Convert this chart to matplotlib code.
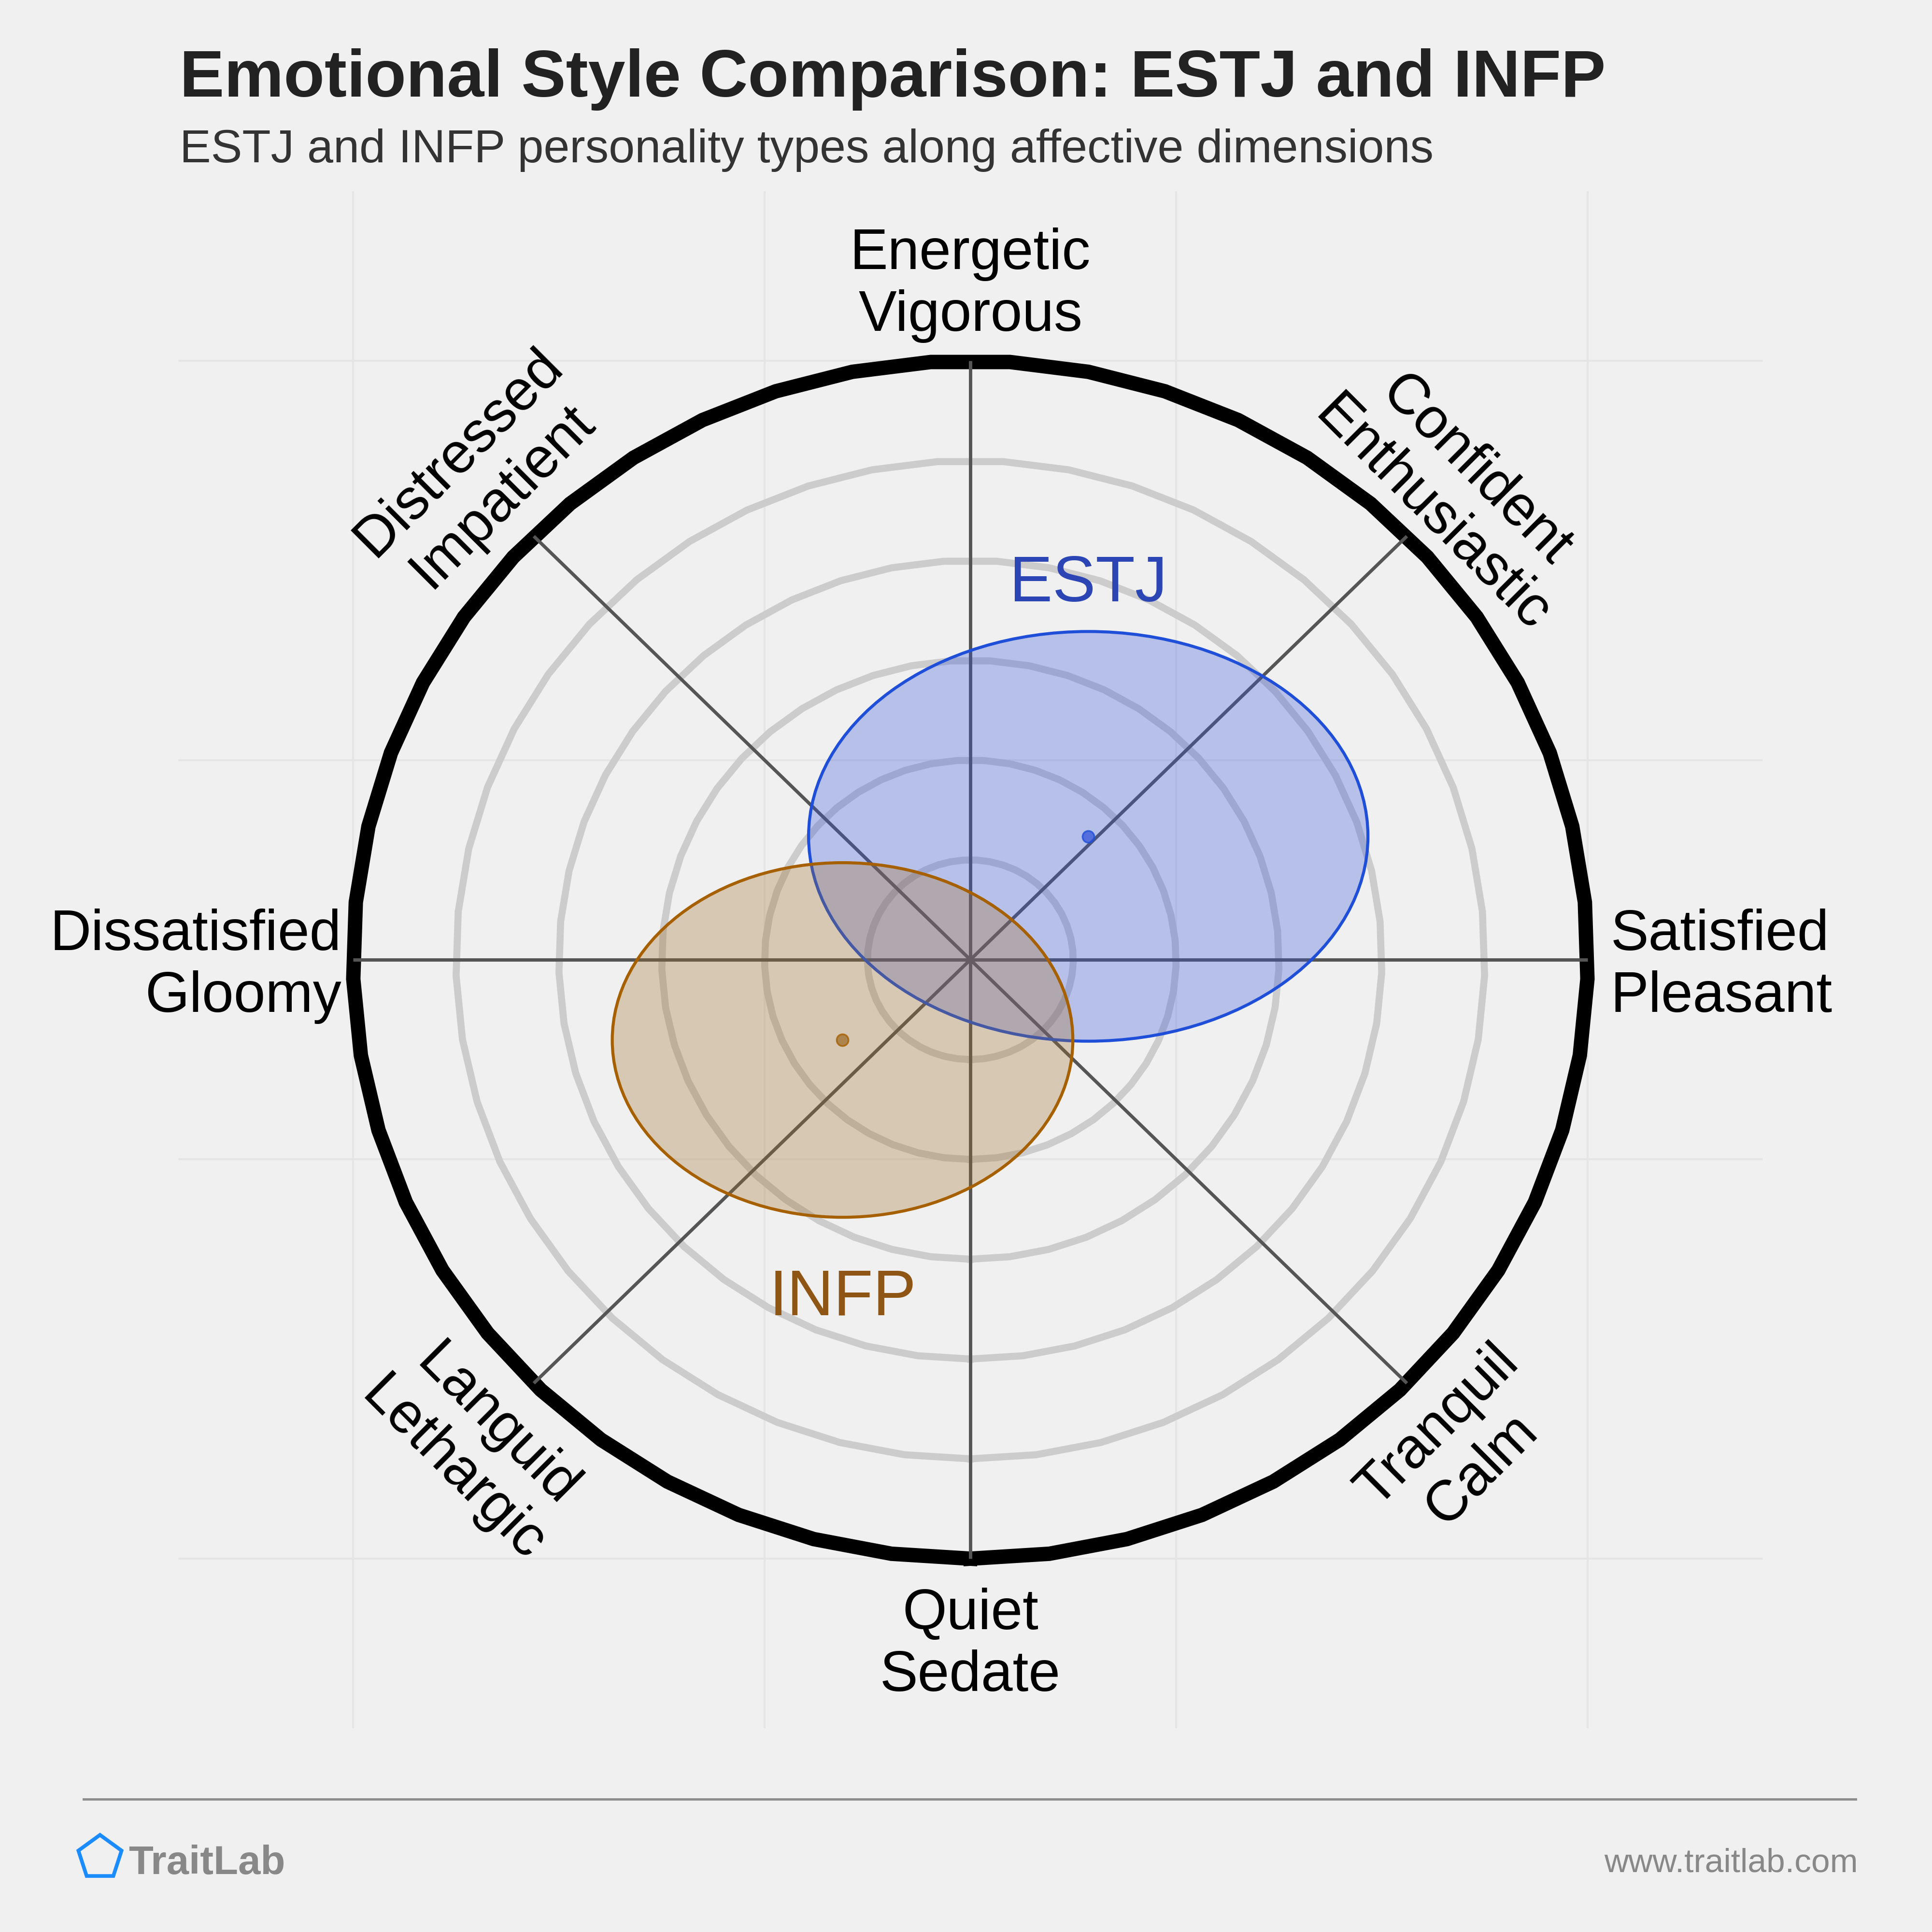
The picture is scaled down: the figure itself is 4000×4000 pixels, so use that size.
import numpy as np
import matplotlib
matplotlib.use('Agg')
import matplotlib.pyplot as plt
from matplotlib.patches import Ellipse, Polygon
from matplotlib.lines import Line2D
from matplotlib.colors import to_rgba

plt.rcParams['font.family'] = ['Liberation Sans', 'DejaVu Sans']

# ---------------- data ----------------
title = "Emotional Style Comparison: ESTJ and INFP"
subtitle = "ESTJ and INFP personality types along affective dimensions"

axis_labels = ['Satisfied\nPleasant', 'Confident\nEnthusiastic', 'Energetic\nVigorous',
               'Distressed\nImpatient', 'Dissatisfied\nGloomy', 'Languid\nLethargic',
               'Quiet\nSedate', 'Tranquil\nCalm']
axis_angles = [0, 45, 90, 135, 180, 225, 270, 315]

types = ['ESTJ', 'INFP']
type_x = [0.191, -0.207]
type_y = [0.206, -0.134]
type_w = [0.906, 0.746]
type_h = [0.684, 0.592]
type_fill = ['#3553d9', '#a06e2b']
type_edge = ['#1f4fd8', '#a66000']
type_text = ['#2b45b5', '#8f5515']
type_label_y = [0.598, -0.593]

ring_levels = [1, 2, 3, 4, 5, 6]
grid_ticks = [-1, -1 / 3, 1 / 3, 1]

# ---------------- figure ----------------
W = 4000
BG = '#f0f0f0'
fig = plt.figure(figsize=(16, 16), dpi=250, facecolor=BG)
ax = fig.add_axes([369 / W, (W - 3578) / W, 3280 / W, 3182 / W])
lim = 1.283
ax.set_xlim(-lim, lim)
ax.set_ylim(-lim, lim)
ax.set_facecolor(BG)
for s in ax.spines.values():
    s.set_visible(False)
ax.set_xticks(grid_ticks)
ax.set_yticks(grid_ticks)
ax.tick_params(length=0, labelbottom=False, labelleft=False)
ax.grid(True, color='#e5e5e5', lw=1.2)
ax.set_axisbelow(True)

# rings (49-gon, vertex at bottom)
phi = np.linspace(0, 2 * np.pi, 50)
px = np.sin(phi)
py = -np.cos(phi)
nmax = max(ring_levels)
for lvl in ring_levels:
    r = lvl / nmax
    if lvl == nmax:
        ax.plot(r * px, r * py, color='black', lw=8.6, zorder=2,
                solid_joinstyle='miter', clip_on=False)
    else:
        ax.plot(r * px, r * py, color='#cccccc', lw=4.2, zorder=1,
                solid_joinstyle='miter')

# spokes
for a in axis_angles:
    t = np.deg2rad(a)
    ax.plot([0, np.cos(t)], [0, np.sin(t)], color='#555555', lw=2.0,
            zorder=3, solid_capstyle='butt', clip_on=False)

# ellipses
for i, name in enumerate(types):
    e = Ellipse((type_x[i], type_y[i]), type_w[i], type_h[i],
                facecolor=to_rgba(type_fill[i], 0.3),
                edgecolor=type_edge[i], lw=1.8, zorder=4)
    ax.add_patch(e)
    ax.plot(type_x[i], type_y[i], 'o', ms=7, markerfacecolor=to_rgba(type_fill[i], 0.75),
            markeredgecolor=to_rgba(type_edge[i], 0.8), markeredgewidth=1, zorder=5)
    ax.text(type_x[i], type_label_y[i], name, color=type_text[i], fontsize=38.5,
            ha='center', va='baseline', zorder=6)

# axis labels
lab_fs = 34
label_pos = {
    0: (1.037, -0.011, 'left', 0),
    180: (-1.019, -0.011, 'right', 0),
    90: (0.0, 1.126, 'center', 0),
    270: (0.0, -1.145, 'center', 0),
    45: (0.783, 0.780, 'center', -45),
    135: (-0.793, 0.810, 'center', 45),
    225: (-0.803, -0.815, 'center', -45),
    315: (0.793, -0.815, 'center', 45),
}
for lab, a in zip(axis_labels, axis_angles):
    x, y, ha, rot = label_pos[a]
    ax.text(x, y, lab, fontsize=lab_fs, ha=ha, va='center', multialignment=ha,
            rotation=rot, rotation_mode='anchor', color='black', zorder=6, clip_on=False)

# title and subtitle (fit to measured widths)
renderer = fig.canvas.get_renderer()


def fit_text(x, y, s, target_w, fs0, **kw):
    t = fig.text(x, y, s, fontsize=fs0, **kw)
    w = t.get_window_extent(renderer).width
    t.set_fontsize(fs0 * target_w / w)
    return t


fit_text(372 / W, 1 - 200 / W, title, 2955, 38, fontweight='bold', color='#222222',
         ha='left', va='baseline')
fit_text(372 / W, 1 - 336 / W, subtitle, 2596, 24, color='#333333',
         ha='left', va='baseline')

# footer
fig.add_artist(Line2D([173 / W, 3842 / W], [1 - 3725 / W, 1 - 3725 / W],
                      color='#8c8c8c', lw=1.4))
cx, cy, R = 207, 3846, 47
ang = np.deg2rad(90 + 72 * np.arange(5))
pent = np.column_stack([(cx + R * np.cos(ang)) / W, 1 - (cy - R * np.sin(ang)) / W])
fig.add_artist(Polygon(pent, closed=True, fill=False, edgecolor='#1a8cff', lw=2.2,
                       transform=fig.transFigure))
fig.text(266 / W, 1 - 3880 / W, 'TraitLab', fontsize=24, fontweight='bold',
         color='#888888', ha='left', va='baseline')
fig.text(3847 / W, 1 - 3876 / W, 'www.traitlab.com', fontsize=20, color='#888888',
         ha='right', va='baseline')

fig.savefig('out.png', dpi=250, facecolor=BG)
